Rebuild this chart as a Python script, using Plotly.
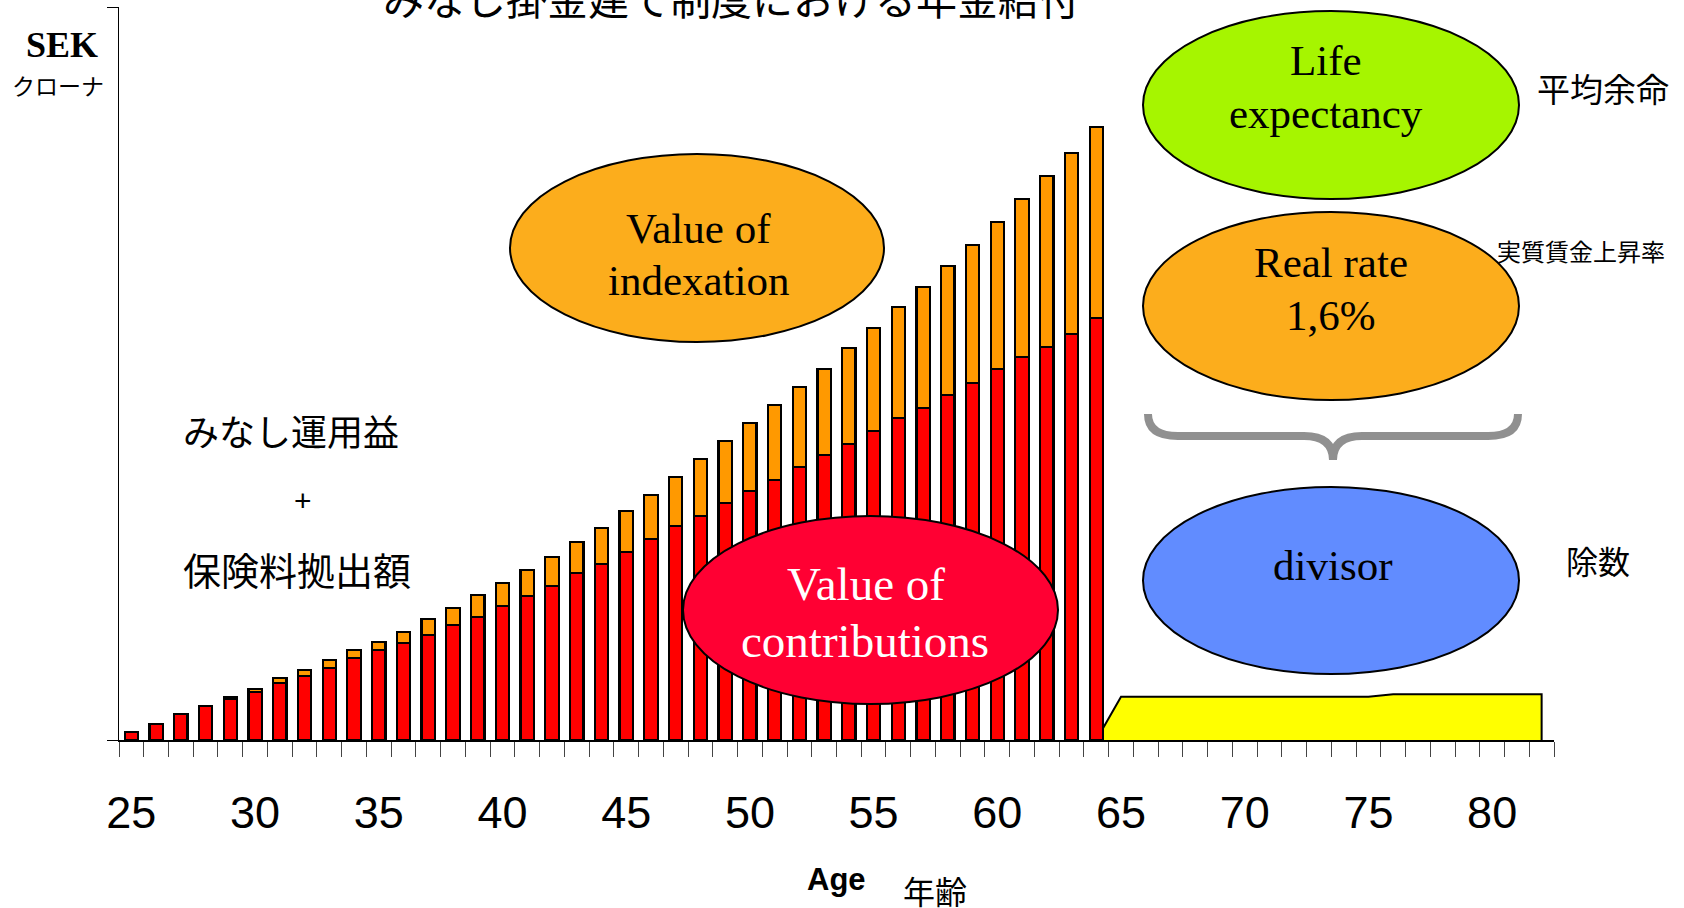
import plotly.graph_objects as go

# Accrual phase: one bar per age, contributions plus indexation (relative units)
ages = list(range(25, 65))
contributions = [8, 16, 26, 34, 41, 48, 57, 64, 72, 82,
                 90, 97, 105, 115, 123, 134, 144, 154, 167, 176,
                 188, 201, 214, 224, 237, 249, 260, 273, 285, 296,
                 309, 322, 332, 345, 357, 371, 383, 393, 406, 422]
indexation = [0, 0, 0, 0, 2, 3, 5, 6, 8, 8,
              8, 11, 16, 17, 22, 23, 26, 29, 31, 36,
              41, 44, 49, 57, 62, 68, 75, 80, 86, 96,
              103, 111, 121, 129, 138, 147, 158, 171, 181, 191]

# Payout phase: annual pension from 65 onwards
payout_ages = [64, 65, 66, 67, 68, 69, 70, 71, 72, 73, 74, 75, 76, 77, 78, 79, 80, 81, 82]
payout_values = [0, 43.3, 43.3, 43.3, 43.3, 43.3, 43.3, 43.3, 43.3, 43.3, 43.3, 43.3,
                 45.7, 45.7, 45.7, 45.7, 45.7, 45.7, 45.7]

age_ticks = [25, 30, 35, 40, 45, 50, 55, 60, 65, 70, 75, 80]
y_top = 733

W, H = 1684, 908
L, R, T, B = 119, 130, 7, 168
PW, PH = W - L - R, H - T - B

SERIF = "Liberation Serif, Times New Roman, serif"
SANS = "Liberation Sans, Arial, sans-serif"
CJK = "Noto Sans CJK JP, sans-serif"


def px(x):
    return (x - L) / PW


def py(y):
    return (H - B - y) / PH


fig = go.Figure()

# pension stream (drawn under the bars)
fig.add_trace(go.Scatter(
    x=payout_ages + [payout_ages[-1]], y=payout_values + [0],
    mode="lines", fill="toself", fillcolor="#FFFF00",
    line=dict(color="black", width=2), hoverinfo="skip", showlegend=False,
    xaxis="x", yaxis="y",
))

bar_line = dict(color="black", width=2.2)
fig.add_trace(go.Bar(
    x=ages, y=contributions, width=0.54, name="Value of contributions",
    marker=dict(color="#FF0000", line=bar_line), xaxis="x2", yaxis="y",
))
fig.add_trace(go.Bar(
    x=ages, y=indexation, width=0.54, name="Value of indexation",
    marker=dict(color="#FF9900", line=bar_line), xaxis="x2", yaxis="y",
))

# ellipses
ellipses = [
    ((510, 154, 884, 342), "#FCAD1C"),   # indexation
    ((683, 516, 1058, 704), "#FF0033"),  # contributions
    ((1143, 11, 1519, 199), "#A6F500"),  # life expectancy
    ((1143, 212, 1519, 400), "#FCAD1C"), # real rate
    ((1143, 487, 1519, 674), "#618CFF"), # divisor
]
shapes = []
for (x0, y0, x1, y1), col in ellipses:
    shapes.append(dict(type="circle", xref="paper", yref="paper",
                       x0=px(x0), x1=px(x1), y0=py(y1), y1=py(y0),
                       fillcolor=col, line=dict(color="black", width=2),
                       layer="above"))

# curly brace grouping the two factors above the divisor
pts = [("M", [(1148, 414)]),
       ("Q", [(1148, 436), (1178, 436)]),
       ("L", [(1304, 436)]),
       ("Q", [(1333, 436), (1333, 460)]),
       ("Q", [(1333, 436), (1362, 436)]),
       ("L", [(1488, 436)]),
       ("Q", [(1518, 436), (1518, 414)])]
path = " ".join(cmd + " " + " ".join(f"{px(a):.5f},{py(b):.5f}" for a, b in p)
                for cmd, p in pts)
shapes.append(dict(type="path", xref="paper", yref="paper", path=path,
                   line=dict(color="#909090", width=8), layer="above"))

texts = [
    ("Value of", 698, 228.5, SERIF, 43, "black"),
    ("indexation", 699, 280, SERIF, 43, "black"),
    ("Value of", 866, 584, SERIF, 47, "white"),
    ("contributions", 865, 641, SERIF, 47, "white"),
    ("Life", 1326, 60.5, SERIF, 43, "black"),
    ("expectancy", 1326, 113.5, SERIF, 43, "black"),
    ("Real rate", 1331, 262.5, SERIF, 43, "black"),
    ("1,6%", 1331, 315.5, SERIF, 43, "black"),
    ("divisor", 1332, 565.5, SERIF, 43, "black"),
    ("みなし掛金建て制度における年金給付", 731, -3, CJK, 41, "black"),
    ("<b>SEK</b>", 62, 45, SERIF, 36, "black"),
    ("クローナ", 58, 85, CJK, 23, "black"),
    ("みなし運用益", 291, 430, CJK, 36, "black"),
    ("+", 303, 500, SANS, 30, "black"),
    ("保険料拠出額", 297, 568, CJK, 38, "black"),
    ("平均余命", 1603, 88, CJK, 33, "black"),
    ("実質賃金上昇率", 1581, 251, CJK, 24, "black"),
    ("除数", 1598, 560, CJK, 32, "black"),
    ("<b>Age</b>", 836, 879, SANS, 31, "black"),
    ("年齢", 935, 890, CJK, 32, "black"),
]
annotations = [dict(text=t, x=px(x), y=py(y), xref="paper", yref="paper",
                    xanchor="center", yanchor="middle", showarrow=False,
                    font=dict(family=f, size=s, color=c))
               for t, x, y, f, s, c in texts]

fig.update_layout(
    width=W, height=H, autosize=False,
    margin=dict(l=L, r=R, t=T, b=B, pad=0),
    paper_bgcolor="white", plot_bgcolor="white",
    barmode="stack", showlegend=False,
    shapes=shapes, annotations=annotations,
    xaxis=dict(range=[24.5, 82.5], showline=True, linecolor="black", linewidth=1.5,
               tickmode="array", tickvals=age_ticks, ticks="outside", ticklen=0,
               tickcolor="rgba(0,0,0,0)", ticklabelstandoff=32,
               tickfont=dict(family=SANS, size=45, color="black"),
               showgrid=False, zeroline=False, fixedrange=True,
               minor=dict(ticks="outside", ticklen=15, tickwidth=1, tickcolor="#444",
                          tickmode="linear", tick0=24.5, dtick=1, showgrid=False)),
    xaxis2=dict(range=[24.5, 82.5], overlaying="x", visible=False, fixedrange=True),
    yaxis=dict(range=[0, y_top], showline=True, linecolor="black", linewidth=1,
               tickmode="array", tickvals=[0, y_top], ticks="outside", ticklen=11,
               tickcolor="black", showticklabels=False, showgrid=False,
               zeroline=False, fixedrange=True),
)

fig.write_html("out.html")
